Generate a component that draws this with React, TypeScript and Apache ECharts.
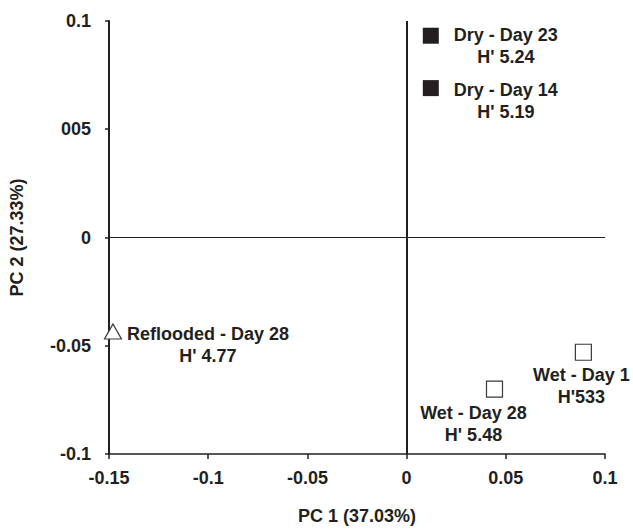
import React, { useEffect, useRef } from "react";
import * as echarts from "echarts";

// Samples (PCA scores)
const sampleNames = ["Dry - Day 23", "Dry - Day 14", "Reflooded - Day 28", "Wet - Day 28", "Wet - Day 1"];
const diversity = ["H' 5.24", "H' 5.19", "H' 4.77", "H' 5.48", "H'533"];
const sampleGroup = ["dry", "dry", "reflooded", "wet", "wet"];
const pc1 = [0.0122, 0.0122, -0.148, 0.0443, 0.0891];
const pc2 = [0.0932, 0.069, -0.0434, -0.07, -0.053];

// Axis tick labels (as printed)
const xTickLabels = ["-0.15", "-0.1", "-0.05", "0", "0.05", "0.1"];
const yTickLabels = ["-0.1", "-0.05", "0", "005", "0.1"];

const xTitle = "PC 1 (37.03%)";
const yTitle = "PC 2 (27.33%)";

const INK = "#231f20";
const FONT = "'Liberation Sans', Arial, Helvetica, sans-serif";

// label placement (relative to marker centre), keyed by sample
const labelOffsets: Record<string, number[]> = {
  "Dry - Day 23": [75, 10],
  "Dry - Day 14": [75, 13],
  "Reflooded - Day 28": [95, 14],
  "Wet - Day 28": [-21, 35],
  "Wet - Day 1": [-2, 34],
};

const groupStyle: Record<string, any> = {
  dry: { symbol: "rect", symbolSize: 16, itemStyle: { color: INK, borderColor: INK, borderWidth: 0, opacity: 1 } },
  wet: { symbol: "rect", symbolSize: 16, itemStyle: { color: "#ffffff", borderColor: "#3a3a3a", borderWidth: 1.2, opacity: 1 } },
  reflooded: { symbol: "triangle", symbolSize: [17, 15], itemStyle: { color: "#ffffff", borderColor: "#3a3a3a", borderWidth: 1.2, opacity: 1 } },
};

export default function App() {
  const ref = useRef<HTMLDivElement>(null);
  useEffect(() => {
    const chart = echarts.init(ref.current!, null, { renderer: "svg" });

    const groups = ["dry", "wet", "reflooded"];
    const series: any[] = groups.map((g, gi) => ({
      type: "scatter",
      name: g,
      symbol: groupStyle[g].symbol,
      symbolSize: groupStyle[g].symbolSize,
      itemStyle: groupStyle[g].itemStyle,
      z: 5,
      data: sampleNames
        .map((n, i) => ({ n, i }))
        .filter((d) => sampleGroup[d.i] === g)
        .map((d) => ({
          value: [pc1[d.i], pc2[d.i]],
          name: d.n,
          label: {
            show: true,
            position: "inside",
            offset: labelOffsets[d.n],
            formatter: sampleNames[d.i] + "\n" + diversity[d.i],
            align: "center",
            verticalAlign: "middle",
            color: INK,
            opacity: 1,
            fontFamily: FONT,
            fontWeight: "bold",
            fontSize: 18,
            lineHeight: 22,
          },
        })),
      markLine:
        gi === 0
          ? {
              silent: true,
              symbol: ["none", "none"],
              label: { show: false },
              z: 1,
              data: [
                { xAxis: 0, lineStyle: { color: INK, width: 2, type: "solid", opacity: 1 } },
                { yAxis: 0, lineStyle: { color: INK, width: 1.2, type: "solid", opacity: 1 } },
              ],
            }
          : undefined,
    }));

    const option: any = {
      animation: false,
      backgroundColor: "#ffffff",
      grid: { left: 109, right: 28, top: 21, bottom: 69, containLabel: false },
      xAxis: {
        type: "value",
        min: -0.15,
        max: 0.1,
        interval: 0.05,
        name: xTitle,
        nameLocation: "middle",
        nameGap: 53,
        nameTextStyle: { color: INK, fontFamily: FONT, fontWeight: "bold", fontSize: 18 },
        axisLine: { show: true, onZero: false, lineStyle: { color: INK, width: 1.5 } },
        axisTick: { show: true, length: 5, lineStyle: { color: INK, width: 1.5 } },
        axisLabel: {
          margin: 15,
          color: INK,
          fontFamily: FONT,
          fontWeight: "bold",
          fontSize: 18,
          formatter: (v: number) => xTickLabels[Math.round((v + 0.15) / 0.05)],
        },
        splitLine: { show: false },
      },
      yAxis: {
        type: "value",
        min: -0.1,
        max: 0.1,
        interval: 0.05,
        name: yTitle,
        nameLocation: "middle",
        nameGap: 83,
        nameRotate: 90,
        nameTextStyle: { color: INK, fontFamily: FONT, fontWeight: "bold", fontSize: 18 },
        axisLine: { show: true, onZero: false, lineStyle: { color: INK, width: 2 } },
        axisTick: { show: true, length: 4, lineStyle: { color: INK, width: 1.5 } },
        axisLabel: {
          margin: 18,
          color: INK,
          fontFamily: FONT,
          fontWeight: "bold",
          fontSize: 18,
          formatter: (v: number) => yTickLabels[Math.round((v + 0.1) / 0.05)],
        },
        splitLine: { show: false },
      },
      series,
    };

    chart.setOption(option);
    return () => chart.dispose();
  }, []);

  return (
    <div
      ref={ref}
      style={{ position: "fixed", left: 0, top: 0, width: 633, height: 530, background: "#ffffff" }}
    />
  );
}
